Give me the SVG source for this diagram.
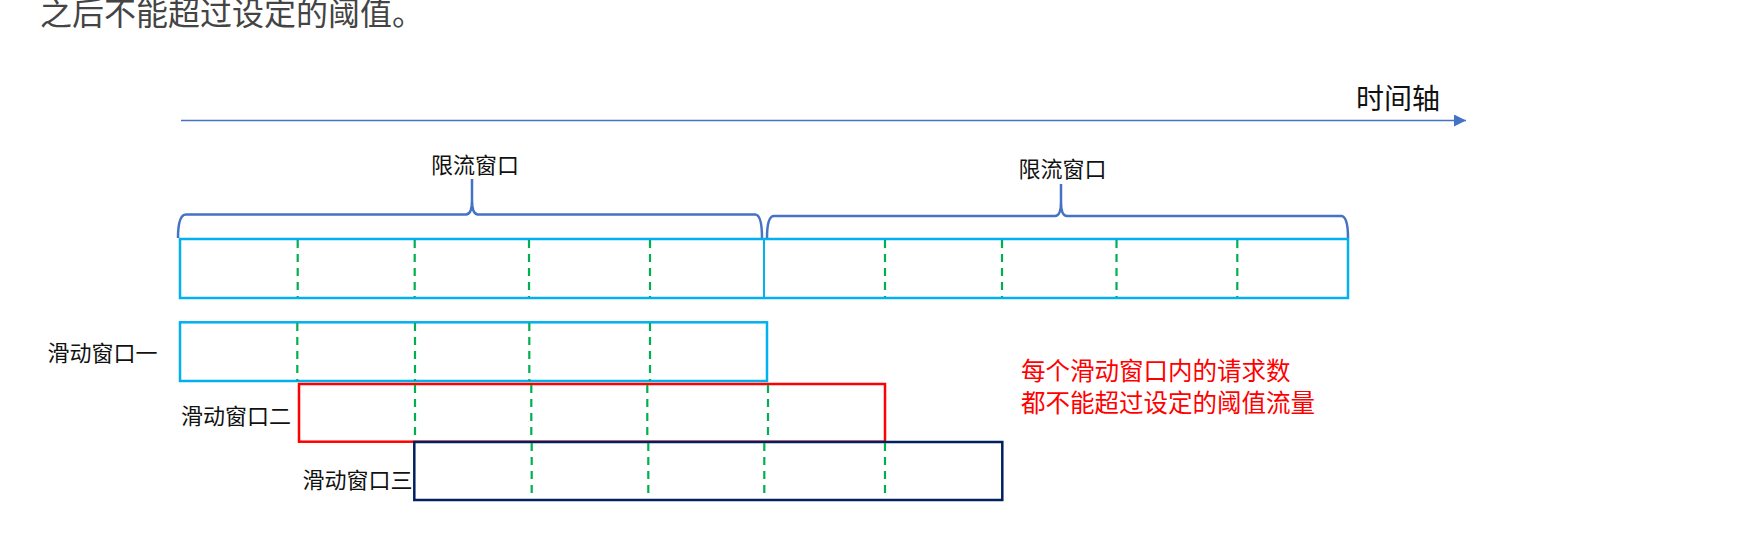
<svg xmlns="http://www.w3.org/2000/svg" width="1756" height="540" viewBox="0 0 1756 540">
  <style>
    .t { font-family: "Noto Sans CJK SC", "Noto Sans", sans-serif; }
    .lbl { font-size: 22px; fill: #111; }
    .brace { fill: none; stroke: #4472C4; stroke-width: 2.5; }
    .dash { stroke: #00B050; stroke-width: 2.2; stroke-dasharray: 8 6; fill: none; }
    .lb { fill: none; stroke: #00B0F0; stroke-width: 2.5; }
  </style>
  <defs>
    <marker id="arr" markerWidth="12" markerHeight="12" refX="12" refY="6" orient="auto" markerUnits="userSpaceOnUse">
      <path d="M0,0 L12,6 L0,12 Z" fill="#4472C4"/>
    </marker>
  </defs>
  <rect width="1756" height="540" fill="#ffffff"/>
  <text class="t" x="40" y="25" font-size="32" fill="#444">之后不能超过设定的阈值。</text>

  <g id="connectors">
    <line x1="181" y1="120.5" x2="1466" y2="120.5" stroke="#4472C4" stroke-width="1.6" marker-end="url(#arr)"/>
    <path class="brace" d="M178,238 Q178,214.5 186,214.5 H466 Q472,214.5 472,200 V179 V200 Q472,214.5 478,214.5 H755 Q762,214.5 762,238"/>
    <path class="brace" d="M767,238 Q767,216 774,216 H1055 Q1061,216 1061,202 V184 V202 Q1061,216 1067,216 H1341 Q1348,216 1348,238"/>
  </g>

  <g id="axis-label"><text class="t" x="1356" y="109" font-size="28" fill="#111">时间轴</text></g>
  <g id="limit-label-1"><text class="t lbl" x="475" y="173.4" text-anchor="middle">限流窗口</text></g>
  <g id="limit-label-2"><text class="t lbl" x="1062.5" y="176.7" text-anchor="middle">限流窗口</text></g>

  <g id="limit-windows">
    <rect class="lb" x="180" y="239" width="1168" height="59"/>
    <line x1="764" y1="239" x2="764" y2="298" stroke="#00B0F0" stroke-width="2"/>
    <g class="dash">
      <line x1="297.7" y1="240" x2="297.7" y2="297"/>
      <line x1="414.7" y1="240" x2="414.7" y2="297"/>
      <line x1="529" y1="240" x2="529" y2="297"/>
      <line x1="650" y1="240" x2="650" y2="297"/>
      <line x1="885" y1="240" x2="885" y2="297"/>
      <line x1="1002" y1="240" x2="1002" y2="297"/>
      <line x1="1116.5" y1="240" x2="1116.5" y2="297"/>
      <line x1="1237.3" y1="240" x2="1237.3" y2="297"/>
    </g>
  </g>

  <g id="sliding-window-1">
    <rect class="lb" x="180" y="322.3" width="587" height="58.7"/>
    <g class="dash">
      <line x1="297.3" y1="323" x2="297.3" y2="381"/>
      <line x1="415" y1="323" x2="415" y2="381"/>
      <line x1="529.3" y1="323" x2="529.3" y2="381"/>
      <line x1="650" y1="323" x2="650" y2="381"/>
    </g>
    <text class="t lbl" x="47.5" y="361">滑动窗口一</text>
  </g>

  <g id="sliding-window-2">
    <rect x="299" y="384" width="586" height="57.7" fill="none" stroke="#FF0000" stroke-width="2.5"/>
    <g class="dash">
      <line x1="415" y1="385" x2="415" y2="441"/>
      <line x1="531.3" y1="385" x2="531.3" y2="441"/>
      <line x1="647.3" y1="385" x2="647.3" y2="441"/>
      <line x1="768" y1="385" x2="768" y2="441"/>
    </g>
    <text class="t lbl" x="181" y="424.4">滑动窗口二</text>
  </g>

  <g id="sliding-window-3">
    <rect x="414.3" y="442" width="588" height="58" fill="none" stroke="#002060" stroke-width="2.5"/>
    <g class="dash">
      <line x1="531.7" y1="443" x2="531.7" y2="499"/>
      <line x1="648.3" y1="443" x2="648.3" y2="499"/>
      <line x1="764.3" y1="443" x2="764.3" y2="499"/>
      <line x1="885" y1="443" x2="885" y2="499"/>
    </g>
    <text class="t lbl" x="302.5" y="488.4">滑动窗口三</text>
  </g>

  <g id="note">
    <text class="t" font-size="24.5" fill="#FF0000">
      <tspan x="1021" y="380">每个滑动窗口内的请求数</tspan>
      <tspan x="1021" y="411.5">都不能超过设定的阈值流量</tspan>
    </text>
  </g>
</svg>
